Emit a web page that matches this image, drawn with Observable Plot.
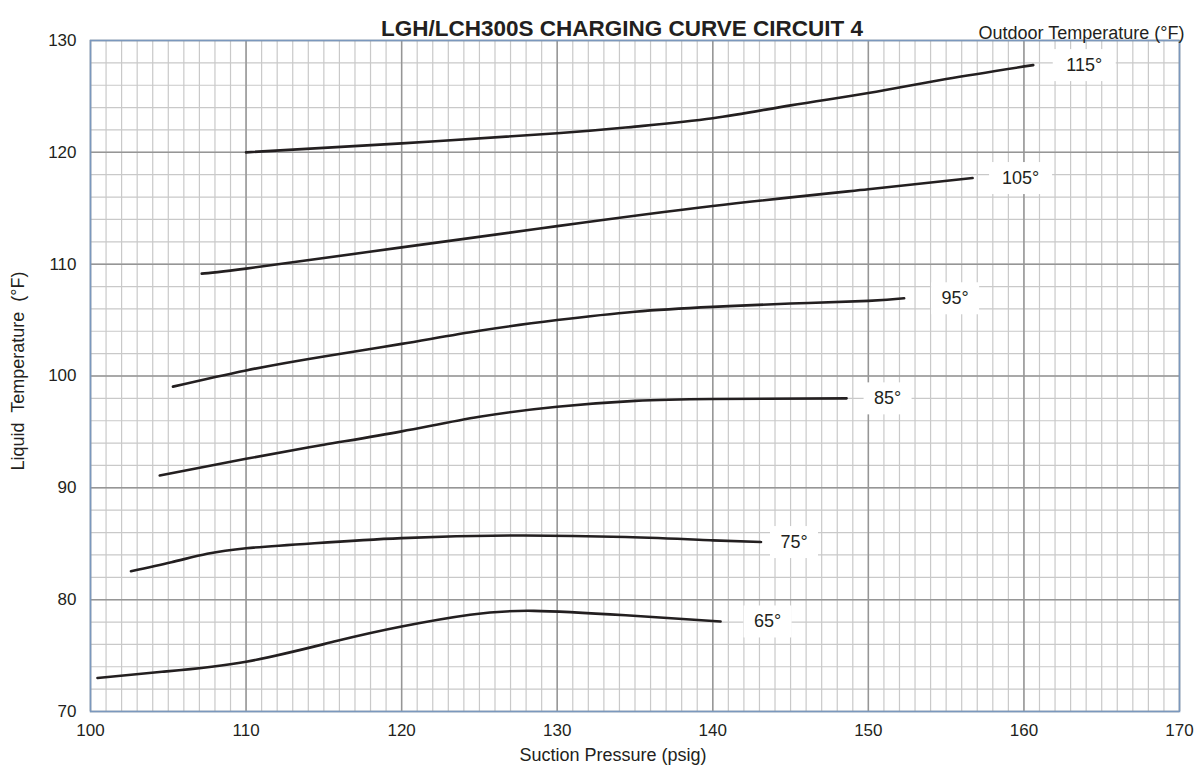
<!DOCTYPE html>
<html>
<head>
<meta charset="utf-8">
<script src="https://cdn.jsdelivr.net/npm/d3@7"></script>
<script src="https://cdn.jsdelivr.net/npm/@observablehq/plot@0.6"></script>
<style>
  html, body { margin: 0; padding: 0; background: #fff; }
  svg text { white-space: pre; }
</style>
</head>
<body>
<div id="chart"></div>
<script>
// ---- data ----
const chartTitle = "LGH/LCH300S CHARGING CURVE CIRCUIT 4";
const legendTitle = "Outdoor Temperature (°F)";
const xLabel = "Suction Pressure (psig)";
const yLabel = "Liquid  Temperature  (°F)";

const xTicks = [100, 110, 120, 130, 140, 150, 160, 170];
const yTicks = [70, 80, 90, 100, 110, 120, 130];

const outdoorTemps = [65, 75, 85, 95, 105, 115];
const curveLabels = ["65°", "75°", "85°", "95°", "105°", "115°"];

const pressure65 = [100.45, 104.6, 110, 115.8, 120, 124.4, 128.5, 134.4, 140.5];
const liquid65   = [73.0, 73.55, 74.45, 76.3, 77.6, 78.65, 79.0, 78.6, 78.05];

const pressure75 = [102.6, 105.2, 107.5, 110, 114.4, 120, 127, 134.4, 140, 143.1];
const liquid75   = [82.55, 83.35, 84.1, 84.6, 85.05, 85.5, 85.74, 85.6, 85.3, 85.15];

const pressure85 = [104.45, 110, 115, 120, 125, 130, 135, 140, 148.6];
const liquid85   = [91.1, 92.6, 93.85, 95.05, 96.35, 97.25, 97.78, 97.95, 98.0];

const pressure95 = [105.3, 110, 115, 120, 125, 130, 135, 140, 145, 150, 152.3];
const liquid95   = [99.05, 100.5, 101.75, 102.87, 104.05, 105.0, 105.75, 106.18, 106.48, 106.72, 106.95];

const pressure105 = [107.15, 110, 120, 130, 140, 150, 156.7];
const liquid105   = [109.15, 109.6, 111.5, 113.4, 115.2, 116.7, 117.7];

const pressure115 = [110, 120, 130, 135, 140, 145, 150, 155, 160.6];
const liquid115   = [120.0, 120.8, 121.7, 122.3, 123.05, 124.2, 125.3, 126.55, 127.8];

// ---- build table ----
const seriesP = [pressure65, pressure75, pressure85, pressure95, pressure105, pressure115];
const seriesT = [liquid65, liquid75, liquid85, liquid95, liquid105, liquid115];
const points = [];
const ends = [];
outdoorTemps.forEach((ot, i) => {
  seriesP[i].forEach((p, j) => points.push({outdoor: ot, p, t: seriesT[i][j]}));
  const n = seriesP[i].length - 1;
  ends.push({outdoor: ot, label: curveLabels[i], p: seriesP[i][n], t: seriesT[i][n]});
});

// label offsets (pixels) from curve end
const labelDx = {65: 47, 75: 33, 85: 41, 95: 51, 105: 48, 115: 51};

const minorX = d3.range(100, 171, 1);
const minorY = d3.range(70, 131, 2);

const ink = "#231f20";
const font = "'Liberation Sans', Arial, Helvetica, sans-serif";

const chart = Plot.plot({
  width: 1196,
  height: 773,
  marginLeft: 90,
  marginRight: 17,
  marginTop: 40,
  marginBottom: 62,
  style: {fontFamily: font, fontSize: "17px", color: ink, background: "white"},
  x: {domain: [100, 170], label: null},
  y: {domain: [70, 130], label: null},
  marks: [
    Plot.ruleX(minorX, {stroke: "#c9c9c9", strokeWidth: 1.2}),
    Plot.ruleY(minorY, {stroke: "#c9c9c9", strokeWidth: 1.2}),
    Plot.ruleX(xTicks, {stroke: "#969696", strokeWidth: 1.5}),
    Plot.ruleY(yTicks, {stroke: "#969696", strokeWidth: 1.5}),
    Plot.frame({stroke: "#7b98bd", strokeWidth: 1.6}),
    Plot.axisX({ticks: xTicks, tickSize: 0, tickPadding: 12, fontSize: 17, label: null}),
    Plot.axisY({ticks: yTicks, tickSize: 0, tickPadding: 14, fontSize: 17, label: null}),
    Plot.line(points, {x: "p", y: "t", z: "outdoor", stroke: ink, strokeWidth: 2.6, curve: "natural"}),
    Plot.text(ends, {
      x: "p", y: "t", text: "label",
      fontSize: 18, fill: ink,
      render: (index, scales, values, dims, ctx, next) => {
        const g = next(index, scales, values, dims, ctx);
        d3.select(g).selectAll("text").each(function(_, k) {
          const i = index[k];
          const cx = values.x[i] + labelDx[ends[i].outdoor];
          const cy = values.y[i];
          d3.select(this).attr("transform", `translate(${cx},${cy})`);
          const w = 15 * ends[i].label.length + 3;
          const rect = document.createElementNS("http://www.w3.org/2000/svg", "rect");
          rect.setAttribute("x", cx - w / 2);
          rect.setAttribute("y", cy - 16);
          rect.setAttribute("width", w);
          rect.setAttribute("height", 32);
          rect.setAttribute("fill", "white");
          rect.setAttribute("stroke", "none");
          g.insertBefore(rect, this);
        });
        return g;
      }
    }),
    Plot.text([chartTitle], {frameAnchor: "top", dy: -20, dx: -13, fontWeight: "bold", fontSize: 22.5, fill: ink}),
    Plot.text([legendTitle], {frameAnchor: "top-right", textAnchor: "end", dx: 5, dy: -14, fontSize: 18, fill: ink}),
    Plot.text([xLabel], {frameAnchor: "bottom", dy: 49, dx: -22, fontSize: 18, fill: ink}),
    Plot.text([yLabel], {frameAnchor: "left", textAnchor: "middle", dx: -72, dy: -5, rotate: -90, fontSize: 18, fill: ink})
  ]
});
document.getElementById("chart").appendChild(chart);
</script>
</body>
</html>
